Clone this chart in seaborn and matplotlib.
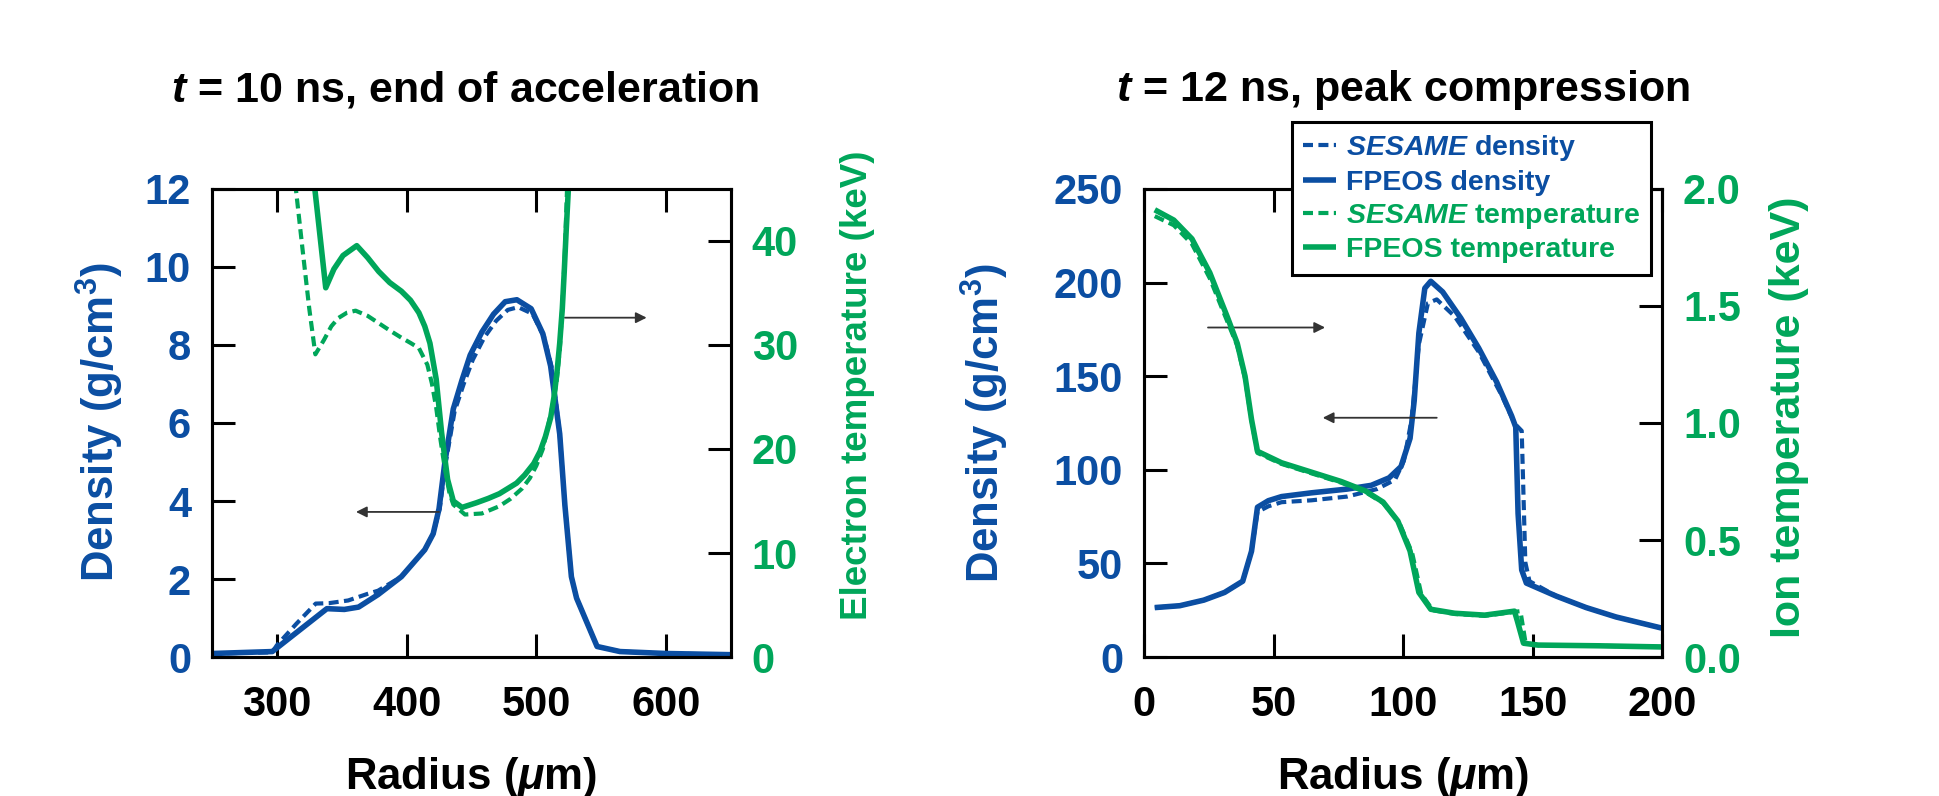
import numpy as np
import pandas as pd
import matplotlib
matplotlib.use("Agg")
import matplotlib.pyplot as plt
from matplotlib.ticker import FormatStrFormatter, FixedLocator
import seaborn as sns

# ---------------- data ----------------
# t = 10 ns, end of acceleration
p1_fp_dens_x = [250, 296.5, 338.6, 352, 363, 378, 396, 414, 420.5, 425, 429.5, 436, 442.7, 449, 458, 467, 476, 485, 496, 505, 511, 518, 522, 527, 531, 538, 546.8, 564.5, 600, 650]
p1_fp_dens_y = [0.09, 0.14, 1.24, 1.22, 1.28, 1.6, 2.06, 2.75, 3.16, 3.8, 4.99, 6.36, 7.1, 7.74, 8.33, 8.79, 9.11, 9.16, 8.93, 8.29, 7.46, 5.72, 3.89, 2.06, 1.51, 0.96, 0.27, 0.14, 0.09, 0.06]

p1_ses_dens_x = [250, 296.5, 300, 315, 330, 340, 355, 370, 378, 396, 414, 420.5, 425.5, 430, 437, 444, 451, 460, 469, 478, 486, 497, 506, 512, 518, 522, 527, 531, 538, 546.8, 564.5, 600, 650]
p1_ses_dens_y = [0.09, 0.12, 0.3, 0.85, 1.37, 1.38, 1.45, 1.62, 1.7, 2.06, 2.75, 3.16, 3.8, 4.95, 6.3, 7.0, 7.62, 8.2, 8.62, 8.9, 8.97, 8.8, 8.2, 7.4, 5.72, 3.89, 2.06, 1.51, 0.96, 0.27, 0.14, 0.09, 0.06]

p1_fp_temp_x = [327.0, 337.7, 344, 351, 361.6, 370, 378.5, 387, 396, 403, 409.5, 414, 418, 422.8, 427, 431.6, 436, 442.7, 453.8, 463, 471.5, 484.8, 491, 498, 503, 507, 511, 513.6, 516, 518, 520, 521.5, 523, 525.5]
p1_fp_temp_y = [47.6, 35.5, 37.3, 38.6, 39.55, 38.4, 37.07, 36.0, 35.17, 34.3, 33.1, 31.8, 30.17, 26.72, 21.55, 17.07, 15.0, 14.38, 14.83, 15.25, 15.7, 16.72, 17.5, 18.6, 19.8, 21.2, 23.0, 25.0, 27.5, 30.17, 33.5, 37.07, 41.0, 47.0]

p1_ses_temp_x = [313, 314.5, 320, 325, 329.7, 336.4, 342, 347.5, 354, 360.7, 370, 378.5, 387, 396, 403, 409.5, 416, 419.5, 422.8, 426, 429.5, 433, 436, 445, 458, 471.5, 480, 489, 495, 500, 505, 509, 513, 515.8, 518, 520, 522, 523.7, 524.5]
p1_ses_temp_y = [50, 45.2, 39.0, 33.5, 29.1, 30.5, 31.8, 32.6, 33.1, 33.3, 32.8, 32.1, 31.4, 30.7, 30.2, 29.7, 28.1, 26.3, 24.0, 21.0, 18.1, 15.8, 14.66, 13.7, 13.8, 14.5, 15.2, 16.2, 17.2, 18.4, 20.0, 22.2, 24.5, 26.7, 29.5, 33.6, 39.0, 45.2, 48.0]

# t = 12 ns, peak compression
p2_fp_dens_x = [4.15, 13.8, 23.1, 31.1, 38.1, 41.5, 43.8, 48, 53.1, 64.6, 78.4, 87.7, 94.6, 99.2, 102.7, 104.3, 106.1, 108.4, 110.7, 115.3, 122.3, 129.2, 136.1, 141.9, 143.5, 144.4, 145.8, 147.6, 159.2, 170.7, 182.2, 200]
p2_fp_dens_y = [26.4, 27.4, 30.4, 34.5, 40.5, 56.5, 80.0, 83.5, 85.7, 87.7, 89.7, 91.7, 95.7, 101.7, 116.8, 136.9, 173, 197, 200.7, 195, 181, 165, 147, 128.8, 122.8, 76.6, 46.5, 39.5, 32.5, 26.4, 21.4, 15.4]

p2_ses_dens_x = [4.15, 13.8, 23.1, 31.1, 38.1, 41.5, 43.8, 48, 53.1, 64.6, 78.4, 89.9, 96.9, 100.3, 103.3, 106.1, 109.6, 113, 119.9, 129.2, 138.4, 143, 145.8, 147.2, 148.8, 159.2, 170.7, 182.2, 200]
p2_ses_dens_y = [26.4, 27.4, 30.4, 34.5, 40.5, 56.5, 77.5, 80.5, 82.7, 83.7, 85.7, 89.7, 94.7, 104.7, 126.8, 167, 189, 191, 182, 163, 138.9, 124.8, 120.8, 50.5, 40.5, 32.5, 26.4, 21.4, 15.4]

p2_fp_temp_x = [4.15, 11.5, 18.5, 25.4, 32.3, 36.0, 39.0, 41.5, 43.8, 53.1, 64.6, 76.1, 85.4, 92.3, 98.0, 102.7, 106.1, 110.7, 119.9, 131.5, 143, 144.1, 146.5, 152.2, 175.3, 200]
p2_fp_temp_y = [1.911, 1.867, 1.787, 1.642, 1.449, 1.34, 1.2, 1.015, 0.879, 0.830, 0.790, 0.750, 0.710, 0.662, 0.581, 0.453, 0.276, 0.204, 0.187, 0.179, 0.196, 0.155, 0.059, 0.051, 0.048, 0.043]

p2_ses_temp_x = [4.15, 11.5, 18.5, 25.4, 32.3, 36.0, 39.0, 41.5, 43.8, 53.1, 64.6, 76.1, 85.4, 92.3, 98.5, 103.5, 107, 111.5, 119.9, 131.5, 143, 145.3, 147.2, 150, 175.3, 200]
p2_ses_temp_y = [1.884, 1.845, 1.765, 1.618, 1.43, 1.33, 1.19, 1.01, 0.872, 0.825, 0.785, 0.745, 0.705, 0.658, 0.575, 0.445, 0.27, 0.2, 0.184, 0.176, 0.193, 0.196, 0.067, 0.051, 0.048, 0.043]

p1_xticks = [300, 400, 500, 600]
p1_dens_ticks = [0, 2, 4, 6, 8, 10, 12]
p1_temp_ticks = [0, 10, 20, 30, 40]
p2_xticks = [0, 50, 100, 150, 200]
p2_dens_ticks = [0, 50, 100, 150, 200, 250]
p2_temp_ticks = [0.0, 0.5, 1.0, 1.5, 2.0]

titles = [r"$\mathit{t}$ = 10 ns, end of acceleration", r"$\mathit{t}$ = 12 ns, peak compression"]
legend_labels = [r"$\mathit{SESAME}$ density", "FPEOS density",
                 r"$\mathit{SESAME}$ temperature", "FPEOS temperature"]

# ---------------- style ----------------
sns.set_theme(style="white")
plt.rcParams["font.family"] = ["Liberation Sans", "DejaVu Sans"]
plt.rcParams["font.weight"] = "bold"
plt.rcParams["mathtext.fontset"] = "custom"
plt.rcParams["mathtext.rm"] = "Liberation Sans"
plt.rcParams["mathtext.it"] = "Liberation Sans:italic:bold"
plt.rcParams["mathtext.bf"] = "Liberation Sans:bold"

BLUE = "#0b4ea2"
GREEN = "#00a65a"
LW_SOLID = 4.0
LW_DASH = 3.0
DASH = (0, (2.4, 1.3))
TICK_FS = 30

fig = plt.figure(figsize=(19.39, 7.96), dpi=100)
fig.patch.set_facecolor("white")
ax1 = fig.add_axes([0.1093, 0.1746, 0.2677, 0.588])
ax3 = fig.add_axes([0.590, 0.1746, 0.2672, 0.588])
ax2 = ax1.twinx()
ax4 = ax3.twinx()


def draw(ax, x, y, color, dashed):
    df = pd.DataFrame({"r": x, "v": y})
    sns.lineplot(data=df, x="r", y="v", ax=ax, color=color, sort=False, estimator=None,
                 linewidth=LW_DASH if dashed else LW_SOLID,
                 linestyle=DASH if dashed else "-", solid_capstyle="butt",
                 solid_joinstyle="round")


# panel 1
draw(ax1, p1_ses_dens_x, p1_ses_dens_y, BLUE, True)
draw(ax1, p1_fp_dens_x, p1_fp_dens_y, BLUE, False)
draw(ax2, p1_ses_temp_x, p1_ses_temp_y, GREEN, True)
draw(ax2, p1_fp_temp_x, p1_fp_temp_y, GREEN, False)
# panel 2
draw(ax3, p2_ses_dens_x, p2_ses_dens_y, BLUE, True)
draw(ax3, p2_fp_dens_x, p2_fp_dens_y, BLUE, False)
draw(ax4, p2_ses_temp_x, p2_ses_temp_y, GREEN, True)
draw(ax4, p2_fp_temp_x, p2_fp_temp_y, GREEN, False)

ax1.set_xlim(250, 650); ax1.set_ylim(0, 12); ax2.set_ylim(0, 45)
ax3.set_xlim(0, 200); ax3.set_ylim(0, 250); ax4.set_ylim(0, 2.0)

ax1.xaxis.set_major_locator(FixedLocator(p1_xticks))
ax1.yaxis.set_major_locator(FixedLocator(p1_dens_ticks))
ax2.yaxis.set_major_locator(FixedLocator(p1_temp_ticks))
ax3.xaxis.set_major_locator(FixedLocator(p2_xticks))
ax3.yaxis.set_major_locator(FixedLocator(p2_dens_ticks))
ax4.yaxis.set_major_locator(FixedLocator(p2_temp_ticks))
ax4.yaxis.set_major_formatter(FormatStrFormatter("%.1f"))

for a in (ax1, ax2, ax3, ax4):
    for s in a.spines.values():
        s.set_linewidth(2.2)
        s.set_color("black")

for a in (ax1, ax3):
    a.tick_params(axis="x", which="major", direction="in", length=16.5, width=2.2,
                  top=True, bottom=True, labelsize=TICK_FS, pad=20, colors="black")
    a.tick_params(axis="y", which="major", direction="in", length=16.5, width=2.2,
                  left=True, right=False, labelsize=TICK_FS, pad=15, colors="black",
                  labelcolor=BLUE)
for a in (ax2, ax4):
    a.tick_params(axis="y", which="major", direction="in", length=16.5, width=2.2,
                  left=False, right=True, labelsize=TICK_FS, pad=15, colors="black",
                  labelcolor=GREEN)
    a.tick_params(axis="x", top=False, bottom=False)

for a in (ax1, ax2, ax3, ax4):
    for lab in a.get_xticklabels() + a.get_yticklabels():
        lab.set_fontweight("bold")

# axis labels
ax1.set_xlabel(r"Radius $(\mu\mathrm{m})$", fontsize=31.5, fontweight="bold", color="black")
ax3.set_xlabel(r"Radius $(\mu\mathrm{m})$", fontsize=31.5, fontweight="bold", color="black")
ax1.set_ylabel(r"Density (g/cm$^{\mathbf{3}}$)", fontsize=31.5, fontweight="bold", color=BLUE)
ax3.set_ylabel(r"Density (g/cm$^{\mathbf{3}}$)", fontsize=31.5, fontweight="bold", color=BLUE)
ax2.set_ylabel("Electron temperature (keV)", fontsize=26.5, fontweight="bold", color=GREEN)
ax4.set_ylabel("Ion temperature (keV)", fontsize=31, fontweight="bold", color=GREEN)

for a in (ax1, ax3):
    a.xaxis.set_label_coords(0.5, -0.257)
    a.xaxis.label.set_va("center")
ax1.yaxis.set_label_coords(-0.216, 0.501)
ax2.yaxis.set_label_coords(1.243, 0.581)
ax3.yaxis.set_label_coords(-0.307, 0.50)
ax4.yaxis.set_label_coords(1.245, 0.512)
for a in (ax1, ax2, ax3, ax4):
    a.yaxis.label.set_va("center")
    a.yaxis.label.set_rotation(90)

ax1.set_title(titles[0], fontsize=31, fontweight="bold", pad=63, color="black", x=0.487)
ax3.set_title(titles[1], fontsize=31, fontweight="bold", pad=63, color="black")

# arrows
arrow_kw = dict(arrowstyle="-|>", color="#333333", lw=1.3, mutation_scale=16,
                shrinkA=0, shrinkB=0)
ax1.annotate("", xy=(361, 3.72), xytext=(425, 3.72), arrowprops=arrow_kw)
ax1.annotate("", xy=(585, 8.7), xytext=(522, 8.7), arrowprops=arrow_kw)
ax3.annotate("", xy=(69.9, 176), xytext=(24.7, 176), arrowprops=arrow_kw)
ax3.annotate("", xy=(69, 127.8), xytext=(113, 127.8), arrowprops=arrow_kw)

# legend (on top twin axis)
handles = list(ax3.get_lines()[:2]) + list(ax4.get_lines()[:2])
leg = ax4.legend(handles, legend_labels, loc="upper right", bbox_to_anchor=(0.979, 1.143),
                 fontsize=20.5, frameon=True, fancybox=False, framealpha=1,
                 edgecolor="black", handlelength=1.15, handletextpad=0.35,
                 labelspacing=0.22, borderpad=0.4, borderaxespad=0)
leg.get_frame().set_linewidth(2.2)
for txt, c in zip(leg.get_texts(), [BLUE, BLUE, GREEN, GREEN]):
    txt.set_color(c)
    txt.set_fontweight("bold")
leg.set_zorder(10)

fig.savefig("out.png", dpi=100, facecolor="white")
